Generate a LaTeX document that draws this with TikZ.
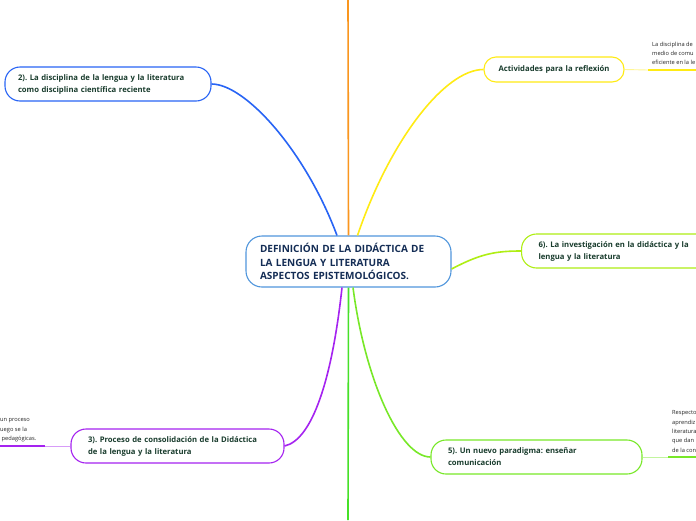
\documentclass[tikz,border=0pt]{standalone}
\usepackage{fontspec}
\setmainfont{Open Sans}
\frenchspacing

\definecolor{brblue}{RGB}{40,100,245}
\definecolor{brorange}{RGB}{250,150,30}
\definecolor{bryellow}{RGB}{255,235,20}
\definecolor{brlime}{RGB}{175,238,20}
\definecolor{brpurple}{RGB}{165,35,240}
\definecolor{brgreen}{RGB}{70,225,40}
\definecolor{brlgreen}{RGB}{120,232,40}
\definecolor{rootline}{RGB}{80,150,220}
\definecolor{roottext}{RGB}{20,45,85}
\definecolor{topictext}{RGB}{25,60,45}

\tikzset{
  topic/.style={draw=#1, line width=1.1pt, rounded corners=15pt, fill=white,
    text=topictext, font=\fontsize{7.7}{12}\selectfont\bfseries,
    align=left, inner ysep=4pt},
  branch/.style={draw=#1, line width=1.6pt},
  leafline/.style={draw=#1, line width=2.2pt},
  leafstub/.style={draw=#1!45, line width=0.9pt},
  leaftext/.style={font=\fontsize{5.7}{9.4}\selectfont, text=black!85, align=left, inner sep=0pt}
}

\begin{document}
\begin{tikzpicture}[x=1pt, y=-1pt]
  \useasboundingbox[fill=white] (0,0) rectangle (696,520);

  % --- centre ---
  \node[topic=rootline, rounded corners=16pt, text=roottext,
        font=\fontsize{10}{13.6}\selectfont\bfseries,
        text width=177pt, inner xsep=14pt, minimum height=51pt] (root) at (348.5,261.5)
    {DEFINICIÓN DE LA DIDÁCTICA DE\\LA LENGUA Y LITERATURA\\ASPECTOS EPISTEMOLÓGICOS.};

  % --- main topics ---
  \node[topic=brblue, text width=180pt, inner xsep=13pt, minimum height=34pt] (disc) at (108,84)
    {2). La disciplina de la lengua y la literatura\\como disciplina científica reciente};
  \node[topic=bryellow, align=center, rounded corners=12pt, text width=116pt, inner xsep=12pt,
        minimum height=25pt] (activ) at (554,69.5) {Actividades para la reflexión};
  \node[topic=brlime, text width=170pt, inner xsep=17pt, minimum height=34pt,
        anchor=west] (invest) at (521,251)
    {6). La investigación en la didáctica y la\\lengua y la literatura};
  \node[topic=brpurple, text width=179pt, inner xsep=17pt, minimum height=34pt] (proceso) at (177.5,446)
    {3). Proceso de consolidación de la Didáctica\\de la lengua y la literatura};
  \node[topic=brlgreen, text width=177pt, inner xsep=17pt, minimum height=34pt] (paradig) at (536.5,457)
    {5). Un nuevo paradigma: enseñar\\comunicación};

  % --- branches from the centre ---
  \coordinate (topend) at (348,0);
  \coordinate (botend) at (348,520);
  \draw[branch=brorange] (root.north) -- (topend);
  \draw[branch=brgreen] (root.south) -- (botend);
  \draw[branch=brblue] ([xshift=-11.5pt]root.north)
    .. controls (305,150) and (245,84) .. (disc.east);
  \draw[branch=bryellow] ([xshift=9pt]root.north)
    .. controls (390,140) and (445,69.5) .. (activ.west);
  \draw[branch=brlime] ([yshift=-7.5pt]root.east)
    .. controls (480,254) and (495,251) .. (invest.west);
  \draw[branch=brpurple] ([xshift=-6.5pt]root.south)
    .. controls (332,380) and (312,440) .. (proceso.east);
  \draw[branch=brlgreen] ([xshift=4.5pt]root.south)
    .. controls (365,380) and (400,457) .. (paradig.west);

  % --- leaves (cut by the page edge) ---
  \coordinate (activknee) at (648,70);
  \coordinate (activend) at (697,70);
  \draw[leafstub=bryellow] (activ.east) -- (activknee);
  \draw[leafline=bryellow] (activknee) -- (activend);
  \node[leaftext, anchor=north west] (activleaf) at (652,41.5)
    {La disciplina de\\medio de comu\\eficiente en la le};

  \coordinate (procknee) at (45,446);
  \coordinate (procend) at (-1,446);
  \draw[leafstub=brpurple] (proceso.west) -- (procknee);
  \draw[leafline=brpurple] (procknee) -- (procend);
  \node[leaftext, anchor=north west] (procleaf) at (0,418.5)
    {un proceso\\uego se la\\\ pedagógicas.};

  \coordinate (paraknee) at (668,457);
  \coordinate (paraend) at (697,457);
  \draw[leafstub=brlgreen] (paradig.east) -- (paraknee);
  \draw[leafline=brlgreen] (paraknee) -- (paraend);
  \node[leaftext, anchor=north west] (paraleaf) at (672,410.5)
    {Respecto\\aprendiz\\literatura\\que dan\\de la con};

\end{tikzpicture}
\end{document}
